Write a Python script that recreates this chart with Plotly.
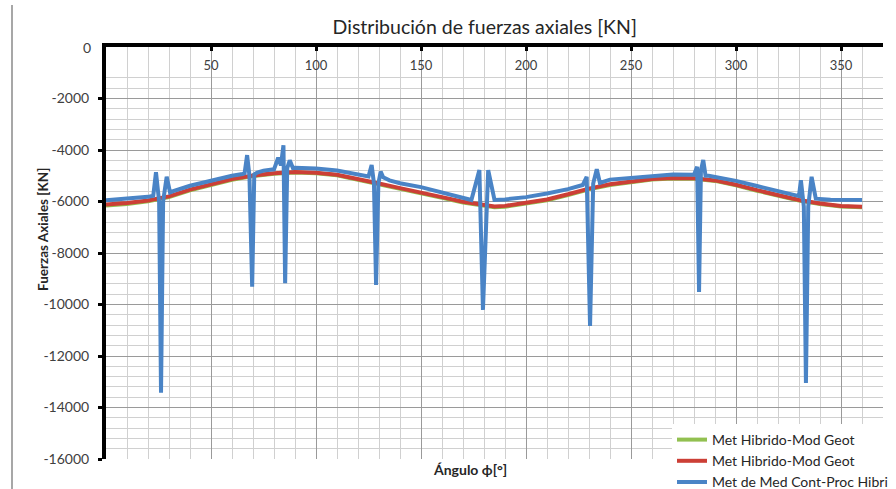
import plotly.graph_objects as go

# ---- data ----
theta_ref = [0, 10, 20, 30, 40, 50, 60, 70, 80, 90, 100, 110, 120, 130, 140, 150,
             160, 170, 180, 185, 190, 200, 210, 220, 230, 240, 250, 260, 270, 280,
             290, 300, 310, 320, 330, 340, 350, 360]
red_vals = [-6120, -6060, -5960, -5800, -5540, -5330, -5130, -4990, -4900, -4850,
            -4880, -4960, -5120, -5300, -5480, -5640, -5830, -6010, -6150, -6190,
            -6170, -6060, -5920, -5720, -5500, -5330, -5220, -5130, -5090, -5100,
            -5180, -5350, -5560, -5760, -5940, -6080, -6170, -6200]
green_vals = [-6160, -6100, -5990, -5830, -5570, -5360, -5160, -5010, -4920, -4870,
              -4900, -4980, -5140, -5330, -5510, -5670, -5860, -6040, -6180, -6220,
              -6200, -6090, -5950, -5750, -5530, -5360, -5240, -5150, -5110, -5120,
              -5200, -5370, -5580, -5780, -5960, -6100, -6190, -6220]

theta_blue = [0, 10, 20, 22.5, 23.8, 25.3, 26.2, 27.2, 28.9, 30.5, 32, 40, 50, 60, 65,
              66, 67.2, 68.3, 69.6, 70.6, 72, 75, 80, 82, 83.3, 84.5, 85.3, 86.3, 87.5,
              89, 90, 100, 110, 120, 125, 126.5, 127.6, 128.6, 129.7, 130.8, 132, 135,
              140, 150, 160, 170, 174, 177.8, 179.5, 182, 185, 190, 200, 210, 220, 227,
              228.9, 230.5, 232, 233.7, 235.2, 240, 250, 260, 270, 280, 281.5, 282.4,
              283.3, 284.4, 285.5, 287, 290, 300, 310, 320, 330, 330.9, 332.3, 333.3,
              334.4, 336, 338, 345, 350, 360]
blue_vals = [-5950, -5900, -5820, -5780, -4860, -6000, -13430, -6000, -5040, -5650, -5600,
             -5390, -5180, -5000, -4930,
             -4900, -4200, -5000, -9310, -4950, -4880, -4800, -4750, -4300, -4600,
             -3820, -9170, -4700, -4400,
             -4700, -4690, -4720, -4800, -4960, -5030, -4580, -5300, -9240, -5300,
             -4840, -5060, -5180,
             -5290, -5440, -5650, -5880, -5940, -4780, -10210, -4780, -5940, -5920,
             -5830, -5690, -5520, -5360,
             -5040, -10830, -5300, -4750, -5280, -5150, -5080, -5000, -4950, -4960,
             -4650, -9510,
             -4800, -4390, -5000, -5000, -5040, -5200, -5400, -5600, -5790, -5170,
             -6200, -13050,
             -6200, -5040, -5890, -5930, -5940, -5940]

x_ticks = [50, 100, 150, 200, 250, 300, 350]
x_ticktext = ["50", "100", "150", "200", "250", "300", "350"]
y_ticks = [0, -2000, -4000, -6000, -8000, -10000, -12000, -14000, -16000]
y_ticktext = ["0", "-2000", "-4000", "-6000", "-8000", "-10000", "-12000", "-14000", "-16000"]

names = ["Met Hibrido-Mod Geot", "Met Hibrido-Mod Geot", "Met de Med Cont-Proc Hibri"]
colors = ["#92C050", "#CC3F36", "#4A84C6"]

FONT = "Lato"

fig = go.Figure()
fig.add_trace(go.Scatter(x=theta_ref, y=green_vals, mode="lines", name=names[0],
                         line=dict(color=colors[0], width=4)))
fig.add_trace(go.Scatter(x=theta_ref, y=red_vals, mode="lines", name=names[1],
                         line=dict(color=colors[1], width=4)))
fig.add_trace(go.Scatter(x=theta_blue, y=blue_vals, mode="lines", name=names[2],
                         line=dict(color=colors[2], width=4)))

fig.update_layout(
    width=896, height=489,
    margin=dict(l=106, r=13, t=47, b=30, autoexpand=False),
    paper_bgcolor="white", plot_bgcolor="white",
    font=dict(family=FONT, size=13, color="#404040"),
    title=dict(text="Distribución de fuerzas axiales [KN]", x=0.541, xanchor="center",
               y=0.945, yanchor="middle",
               font=dict(family=FONT, size=19.5, color="#262626")),
    showlegend=True,
    legend=dict(xref="container", yref="container",
                x=672 / 896, y=(489 - 424) / 489, xanchor="left", yanchor="top",
                bgcolor="white", borderwidth=0,
                font=dict(family=FONT, size=14, color="#262626"),
                tracegroupgap=0, itemwidth=30),
    xaxis=dict(
        range=[0, 370], side="top", tickvals=x_ticks, ticktext=x_ticktext,
        ticklabelposition="inside", ticks="inside", ticklen=4, tickwidth=3,
        tickcolor="black", showline=True, linewidth=4, linecolor="black",
        showgrid=True, gridcolor="#9a9a9a", gridwidth=1, zeroline=False,
        minor=dict(dtick=10, showgrid=True, gridcolor="#d0d0d0", gridwidth=1),
        tickfont=dict(family=FONT, size=13, color="#404040"),
        ticklabelstandoff=10,
    ),
    yaxis=dict(
        range=[-16000, 0], tickvals=y_ticks, ticktext=y_ticktext,
        ticks="outside", ticklen=4, tickwidth=3, tickcolor="black",
        showline=True, linewidth=4, linecolor="black",
        showgrid=True, gridcolor="#9a9a9a", gridwidth=1, zeroline=False,
        minor=dict(dtick=400, showgrid=True, gridcolor="#d0d0d0", gridwidth=1),
        tickfont=dict(family=FONT, size=14, color="#404040"),
        ticklabelstandoff=6,
    ),
)

# the "0" label at the top end of the y axis (plotly hides it next to the top axis)
fig.add_annotation(text=y_ticktext[0], xref="paper", yref="y",
                   x=(93 - 106) / 777, y=y_ticks[0], xanchor="right", yanchor="middle",
                   showarrow=False, font=dict(family=FONT, size=14, color="#404040"))
fig.add_annotation(text="<b>Fuerzas Axiales [KN]</b>", xref="paper", yref="paper",
                   x=(33 - 106) / 777, y=(459 - 230) / 412, textangle=-90,
                   showarrow=False, font=dict(family=FONT, size=13.5, color="#262626"))
fig.add_annotation(text="<b>Ángulo ϕ[°]</b>", xref="paper", yref="paper",
                   x=(470 - 106) / 777, y=(459 - 480) / 412,
                   showarrow=False, font=dict(family=FONT, size=14, color="#262626"))
fig.add_shape(type="line", xref="paper", yref="paper",
              x0=(12 - 106) / 777, x1=(12 - 106) / 777,
              y0=(459 - 495) / 412, y1=(459 - 5) / 412,
              line=dict(color="#8a8a8a", width=1.5))

fig.write_html("out.html")
